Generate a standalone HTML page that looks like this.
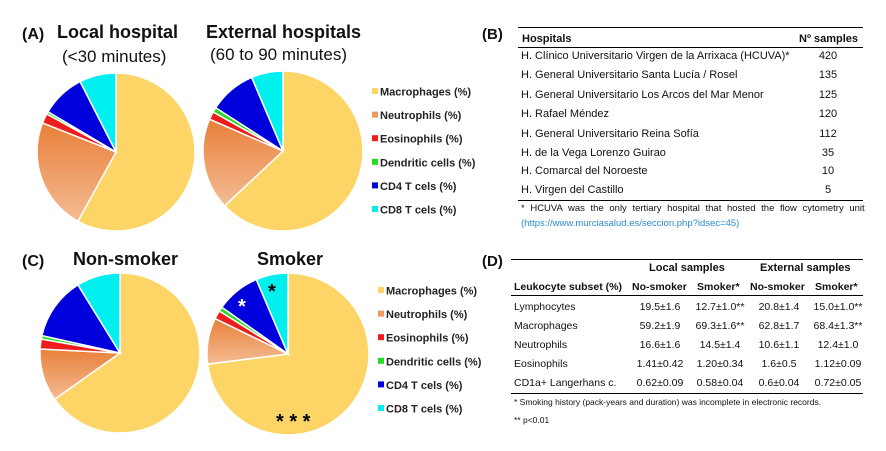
<!DOCTYPE html>
<html><head><meta charset="utf-8">
<style>
body{margin:0;width:886px;height:451px;background:#fff;font-family:"Liberation Sans",Arial,sans-serif;overflow:hidden;position:relative}
svg{position:absolute;left:0;top:0}
.t{position:absolute;white-space:nowrap;font-size:11px;color:#111}
.b{font-weight:bold}
.rule{position:absolute;height:1px;background:#000}
</style></head><body>
<svg id="chart" width="886" height="451">
<defs>
<linearGradient id="neuGrad" x1="0" y1="0" x2="0" y2="1"><stop offset="0" stop-color="#e8803a"/><stop offset="1" stop-color="#f4bb93"/></linearGradient>
</defs>
</svg>

<!-- titles -->
<div class="t b" style="left:22px;top:26px;font-size:16px">(A)</div>
<div class="t b" style="left:57px;top:22px;font-size:18px">Local hospital</div>
<div class="t" style="left:62px;top:47px;font-size:17px">(&lt;30 minutes)</div>
<div class="t b" style="left:206px;top:22px;font-size:18px">External hospitals</div>
<div class="t" style="left:210px;top:45px;font-size:17px">(60 to 90 minutes)</div>
<div class="t b" style="left:22px;top:253px;font-size:16px">(C)</div>
<div class="t b" style="left:73px;top:249px;font-size:18px">Non-smoker</div>
<div class="t b" style="left:257px;top:249px;font-size:18px">Smoker</div>
<div class="t b" style="left:482px;top:26px;font-size:15px">(B)</div>
<div class="t b" style="left:482px;top:253px;font-size:15px">(D)</div>

<!-- Table B -->
<div>
<div class="rule" style="left:518px;top:27px;width:345px"></div>
<div class="t b" style="left:522px;top:33px">Hospitals</div>
<div class="t b" style="left:799px;top:33px">Nº samples</div>
<div class="rule" style="left:518px;top:47px;width:345px"></div>
<div id="tblB"></div>
<div class="rule" style="left:518px;top:200px;width:345px"></div>
<div class="t" style="left:521px;top:203px;font-size:9.5px;word-spacing:3px">* HCUVA was the only tertiary hospital that hosted the flow cytometry unit</div>
<div class="t" style="left:521px;top:218px;font-size:9.5px;color:#2a8bd0">(https://www.murciasalud.es/seccion.php?idsec=45)</div>
</div>

<!-- Table D -->
<div>
<div class="rule" style="left:511px;top:259px;width:352px"></div>
<div class="t b" style="left:649px;top:262px">Local samples</div>
<div class="t b" style="left:760px;top:262px">External samples</div>
<div class="t b" style="left:514px;top:281px;font-size:10.5px">Leukocyte subset (%)</div>
<div class="t b" style="left:632px;top:281px;font-size:10.5px">No-smoker</div>
<div class="t b" style="left:697px;top:281px;font-size:10.5px">Smoker*</div>
<div class="t b" style="left:750px;top:281px;font-size:10.5px">No-smoker</div>
<div class="t b" style="left:815px;top:281px;font-size:10.5px">Smoker*</div>
<div class="rule" style="left:511px;top:295px;width:352px"></div>
<div id="tblD"></div>
<div class="rule" style="left:511px;top:393px;width:352px"></div>
<div class="t" style="left:514px;top:397px;font-size:8.5px">* Smoking history (pack-years and duration) was incomplete in electronic records.</div>
<div class="t" style="left:514px;top:415px;font-size:8.5px">** p&lt;0.01</div>
</div>

<script>
const subsets = ["Macrophages (%)","Neutrophils (%)","Eosinophils (%)","Dendritic cells (%)","CD4 T cels (%)","CD8 T cels (%)"];
const colors = ["#fdd566","url(#neuGrad)","#ee1c1c","#22dd22","#0000dd","#00f0f0"];
const legendColors = ["#fdd566","#ed9a63","#ee1c1c","#22dd22","#0000dd","#00f0f0"];
const localVals = [58, 23, 2, 0.5, 9, 7.5];
const externalVals = [63, 18.5, 1.6, 1.0, 9.5, 6.4];
const nonSmokerVals = [65.2, 10.6, 2, 0.7, 12.7, 8.8];
const smokerVals = [73, 9.2, 1.7, 0.9, 8.8, 6.4];
const hospitals = ["H. Clínico Universitario Virgen de la Arrixaca (HCUVA)*","H. General Universitario Santa Lucía / Rosel","H. General Universitario Los Arcos del Mar Menor","H.  Rafael Méndez","H.  General Universitario Reina Sofía","H.  de la Vega Lorenzo Guirao","H.  Comarcal del Noroeste","H.  Virgen del Castillo"];
const hospitalSamples = ["420","135","125","120","112","35","10","5"];
const leukRows = ["Lymphocytes","Macrophages","Neutrophils","Eosinophils","CD1a+ Langerhans c."];
const localNoSmoker = ["19.5±1.6","59.2±1.9","16.6±1.6","1.41±0.42","0.62±0.09"];
const localSmoker = ["12.7±1.0**","69.3±1.6**","14.5±1.4","1.20±0.34","0.58±0.04"];
const extNoSmoker = ["20.8±1.4","62.8±1.7","10.6±1.1","1.6±0.5","0.6±0.04"];
const extSmoker = ["15.0±1.0**","68.4±1.3**","12.4±1.0","1.12±0.09","0.72±0.05"];

const NS="http://www.w3.org/2000/svg";
const svg=document.getElementById('chart');
function pie(vals,cx,cy,r,name){
  const g=document.createElementNS(NS,'g');
  
  
  const tot=vals.reduce((a,b)=>a+b,0);
  let a0=0;
  vals.forEach((v,i)=>{
    const a1=a0+v/tot*2*Math.PI;
    const x0=cx+r*Math.sin(a0),y0=cy-r*Math.cos(a0),x1=cx+r*Math.sin(a1),y1=cy-r*Math.cos(a1);
    const p=document.createElementNS(NS,'path');
    p.setAttribute('d',`M${cx},${cy}L${x0},${y0}A${r},${r} 0 ${a1-a0>Math.PI?1:0} 1 ${x1},${y1}Z`);
    p.setAttribute('fill',colors[i]);p.setAttribute('stroke','#fff');p.setAttribute('stroke-width','1.5');
    
    
    g.appendChild(p);a0=a1;
  });
  svg.appendChild(g);
}
pie(localVals,116,152,79,'pie-local');
pie(externalVals,283,151,80,'pie-external');
pie(nonSmokerVals,120,353,80,'pie-non-smoker');
pie(smokerVals,288,354,81,'pie-smoker');
function txt(x,y,s,size,fill,name){const t=document.createElementNS(NS,'text');t.setAttribute('x',x);t.setAttribute('y',y);t.setAttribute('font-size',size);t.setAttribute('font-weight','bold');t.setAttribute('fill',fill);t.setAttribute('font-family','Liberation Sans, sans-serif');t.textContent=s;


svg.appendChild(t);return t;}
txt(238,313,'*',20,'#fff','cd4-significance');
txt(268,298,'*',20,'#000','cd8-significance');
txt(276,428,'* * *',20,'#000','macrophage-significance');
function legend(x,ys,name){
  subsets.forEach((s,i)=>{
    const r=document.createElementNS(NS,'rect');r.setAttribute('x',x);r.setAttribute('y',ys+i*23.6-4);r.setAttribute('width',6);r.setAttribute('height',6);r.setAttribute('fill',legendColors[i]);
    
    
    svg.appendChild(r);
    txt(x+8,ys+i*23.6+3.5,s,11,'#222',name+'-entry');
  });
}
legend(372,92,'legend-a');
legend(378,291,'legend-c');

const tb=document.getElementById('tblB');
const rowY=[50,69,89,108,128,147,165,184];
hospitals.forEach((h,i)=>{
  const d=document.createElement('div');d.className='t';d.style.left='521px';d.style.top=rowY[i]+'px';d.textContent=h;
  
  
  tb.appendChild(d);
  const n=document.createElement('div');n.className='t';n.style.left='808px';n.style.width='40px';n.style.textAlign='center';n.style.top=rowY[i]+'px';n.textContent=hospitalSamples[i];
  
  
  tb.appendChild(n);
});
const td=document.getElementById('tblD');
const cols=[[localNoSmoker,660],[localSmoker,720],[extNoSmoker,779],[extSmoker,838]];
leukRows.forEach((r,i)=>{
  const y=301+i*19;
  const d=document.createElement('div');d.className='t';d.style.left='514px';d.style.top=y+'px';d.style.fontSize='10.5px';d.textContent=r;
  
  
  td.appendChild(d);
  cols.forEach(([arr,cx])=>{
    const c=document.createElement('div');c.className='t';c.style.left=(cx-35)+'px';c.style.width='70px';c.style.textAlign='center';c.style.top=y+'px';c.style.fontSize='10.5px';c.textContent=arr[i];
    
    
    td.appendChild(c);
  });
});
</script>
</body></html>
